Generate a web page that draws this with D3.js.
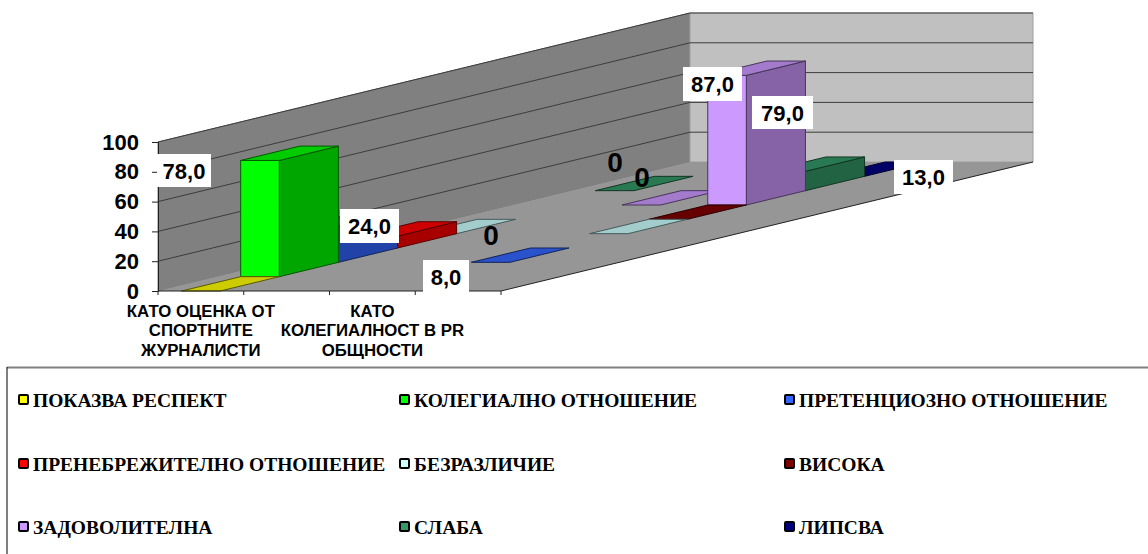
<!DOCTYPE html>
<html>
<head>
<meta charset="utf-8">
<style>
html,body{margin:0;padding:0;background:#fff;overflow:hidden}
svg{display:block}
</style>
<script src="https://cdn.jsdelivr.net/npm/d3@7"></script>
</head>
<body>
<svg id="chart" width="1148" height="554"></svg>
<script>
// Category slots along the front of the floor; two of them carry no caption.
const categories = ["c1", "c2", "c3", "c4"];
const categoryLines = [
  ["КАТО ОЦЕНКА ОТ", "СПОРТНИТЕ", "ЖУРНАЛИСТИ"],
  [],
  ["КАТО", "КОЛЕГИАЛНОСТ В PR", "ОБЩНОСТИ"],
  []
];

const seriesNames = [
  "ПОКАЗВА РЕСПЕКТ", "КОЛЕГИАЛНО ОТНОШЕНИЕ", "ПРЕТЕНЦИОЗНО ОТНОШЕНИЕ",
  "ПРЕНЕБРЕЖИТЕЛНО ОТНОШЕНИЕ", "БЕЗРАЗЛИЧИЕ", "ВИСОКА",
  "ЗАДОВОЛИТЕЛНА", "СЛАБА", "ЛИПСВА"
];
const seriesColors = [
  "#FFFF00", "#00FF00", "#3366FF", "#FF0000", "#CCFFFF",
  "#800000", "#CC99FF", "#339966", "#000080"
];

// Values per series, one entry per category slot; null means no bar.
const respect      = [0,    null, null, null];
const collegial    = [78,   null, null, null];
const pretentious  = [24,   null, 0,    null];
const neglect      = [8,    null, null, null];
const indifference = [0,    null, 0,    null];
const high         = [null, null, 0,    null];
const satisfactory = [null, 0,    87,   null];
const weak         = [0,    null, 13,   null];
const absent       = [null, null, 0,    null];
const seriesValues = [respect, collegial, pretentious, neglect, indifference, high, satisfactory, weak, absent];

const yTicks = [0, 20, 40, 60, 80, 100];
const boxedLabels = ["78,0", "24,0", "8,0", "87,0", "79,0", "13,0"];
const plainLabels = ["0", "0", "0"];

// Label placement, kept apart from the values.
const boxedLayout = [
  [157, 154, 54, 33], [340, 209, 59, 34], [423, 260, 46, 33],
  [683, 67, 59, 34], [752, 96, 61, 33], [894, 160, 59, 34]
];
const plainLayout = [[491, 245], [615, 172], [642, 187]];

const svg = d3.select("#chart");
const FONT = "'Liberation Sans', Arial, sans-serif";
const SERIF = "'Liberation Serif', 'Times New Roman', serif";

// Oblique projection: front plane plus a shift for each unit of depth.
const y = d3.scaleLinear().domain([0, 100]).range([291, 142]);
const x = d3.scaleBand().domain(categories).range([158, 501]).paddingInner(0).paddingOuter(0);
const depthX = d3.scaleLinear().domain([0, seriesNames.length]).range([0, 532]);
const depthY = d3.scaleLinear().domain([0, seriesNames.length]).range([0, -129]);
const project = (px, v, d) => [px + depthX(d), y(v) + depthY(d)];
const poly = pts => pts.map(p => p.join(",")).join(" ");

const x0 = x(categories[0]), x1 = x0 + x.bandwidth() * categories.length;
const depthN = seriesNames.length;

// Walls and floor
const walls = svg.append("g");
walls.append("polygon")
  .attr("points", poly([project(x0, 0, 0), project(x0, 100, 0), project(x0, 100, depthN), project(x0, 0, depthN)]))
  .attr("fill", "#808080").attr("stroke", "#7a7a7a").attr("stroke-width", 1);
walls.append("polygon")
  .attr("points", poly([project(x0, 0, depthN), project(x0, 100, depthN), project(x1, 100, depthN), project(x1, 0, depthN)]))
  .attr("fill", "#C0C0C0").attr("stroke", "#a0a0a0").attr("stroke-width", 1);
walls.append("polygon")
  .attr("points", poly([project(x0, 0, 0), project(x0, 0, depthN), project(x1, 0, depthN), project(x1, 0, 0)]))
  .attr("fill", "#969696");

// Gridlines across both walls
yTicks.filter(t => t > 0).forEach(t => {
  walls.append("polyline")
    .attr("points", poly([project(x0, t, 0), project(x0, t, depthN), project(x1, t, depthN)]))
    .attr("fill", "none").attr("stroke", "#3c3c3c").attr("stroke-width", 1);
});

// Floor edges
walls.append("line")
  .attr("x1", project(x1, 0, 0)[0]).attr("y1", project(x1, 0, 0)[1])
  .attr("x2", project(x1, 0, depthN)[0]).attr("y2", project(x1, 0, depthN)[1])
  .attr("stroke", "#222").attr("stroke-width", 1);

// Bars, painted from the deepest series forward
const barBand = 0.45;
const bars = svg.append("g");
d3.range(depthN - 1, -1, -1).forEach(s => {
  const base = d3.color(seriesColors[s]);
  const shade = k => d3.rgb(base.r * k, base.g * k, base.b * k).formatHex();
  const edge = shade(0.35);
  seriesValues[s].forEach((v, c) => {
    if (v === null) return;
    const cx = x(categories[c]) + x.bandwidth() / 2;
    const w = x.bandwidth() * barBand;
    const a = cx - w / 2, b = cx + w / 2;
    const g = bars.append("g").attr("stroke", edge).attr("stroke-width", 1).attr("stroke-linejoin", "round");
    if (v > 0) {
      g.append("polygon").attr("fill", shade(0.65))
        .attr("points", poly([project(b, 0, s), project(b, 0, s + 1), project(b, v, s + 1), project(b, v, s)]));
      g.append("polygon").attr("fill", base.formatHex())
        .attr("points", poly([project(a, 0, s), project(b, 0, s), project(b, v, s), project(a, v, s)]));
    }
    g.append("polygon").attr("fill", shade(0.8))
      .attr("points", poly([project(a, v, s), project(b, v, s), project(b, v, s + 1), project(a, v, s + 1)]));
  });
});

// Value axis
const yAxis = d3.axisLeft(y).tickValues(yTicks).tickFormat(d3.format("d")).tickSize(6).tickPadding(13);
const yG = svg.append("g").attr("transform", `translate(${x0},0)`).call(yAxis);
yG.select(".domain").attr("stroke", "#222");
yG.selectAll(".tick line").attr("stroke", "#222");
yG.selectAll("text").attr("font-family", FONT).attr("font-size", 22).attr("font-weight", "bold").attr("fill", "#000");

// Category axis with a tick at every slot boundary
const xG = svg.append("g");
xG.append("line").attr("x1", x0).attr("x2", x1).attr("y1", y(0)).attr("y2", y(0)).attr("stroke", "#222");
d3.range(categories.length + 1).forEach(i => {
  const tx = x0 + i * x.bandwidth();
  xG.append("line").attr("x1", tx).attr("x2", tx).attr("y1", y(0)).attr("y2", y(0) + 4).attr("stroke", "#222");
});
categoryLines.forEach((lines, c) => {
  const cx = x(categories[c]) + x.bandwidth() / 2;
  lines.forEach((ln, i) => {
    xG.append("text").attr("x", cx).attr("y", 317 + i * 19.3)
      .attr("text-anchor", "middle").attr("font-family", FONT)
      .attr("font-size", 16.8).attr("font-weight", "bold").attr("fill", "#000").text(ln);
  });
});

// Value captions
const labelG = svg.append("g");
boxedLabels.forEach((t, i) => {
  const [bx, by, bw, bh] = boxedLayout[i];
  labelG.append("rect").attr("x", bx).attr("y", by).attr("width", bw).attr("height", bh).attr("fill", "#fff");
  labelG.append("text").attr("x", bx + bw / 2).attr("y", by + bh / 2 + 8)
    .attr("text-anchor", "middle").attr("font-family", FONT).attr("font-size", 22)
    .attr("font-weight", "bold").attr("fill", "#000").text(t);
});
plainLabels.forEach((t, i) => {
  const [lx, ly] = plainLayout[i];
  labelG.append("text").attr("x", lx).attr("y", ly).attr("text-anchor", "middle")
    .attr("font-family", FONT).attr("font-size", 28).attr("font-weight", "bold").attr("fill", "#000").text(t);
});

// Legend panel
const legend = svg.append("g");
legend.append("line").attr("x1", 7).attr("x2", 1148).attr("y1", 367.5).attr("y2", 367.5).attr("stroke", "#808080").attr("stroke-width", 2);
legend.append("line").attr("x1", 7).attr("x2", 7).attr("y1", 367).attr("y2", 554).attr("stroke", "#000").attr("stroke-width", 1);
const legendX = d3.scaleOrdinal().domain([0, 1, 2]).range([19, 400, 785]);
const legendY = d3.scaleOrdinal().domain([0, 1, 2]).range([400, 464, 527]);
seriesNames.forEach((name, i) => {
  const col = i % 3, row = Math.floor(i / 3);
  const lx = legendX(col), ly = legendY(row);
  legend.append("rect").attr("x", lx).attr("y", ly - 5).attr("width", 9).attr("height", 9).attr("rx", 1)
    .attr("fill", seriesColors[i]).attr("stroke", "#000").attr("stroke-width", 2);
  legend.append("text").attr("x", lx + 14).attr("y", ly + 7)
    .attr("font-family", SERIF).attr("font-size", 19.5).attr("font-weight", "bold").attr("fill", "#000").text(name);
});
</script>
</body>
</html>
